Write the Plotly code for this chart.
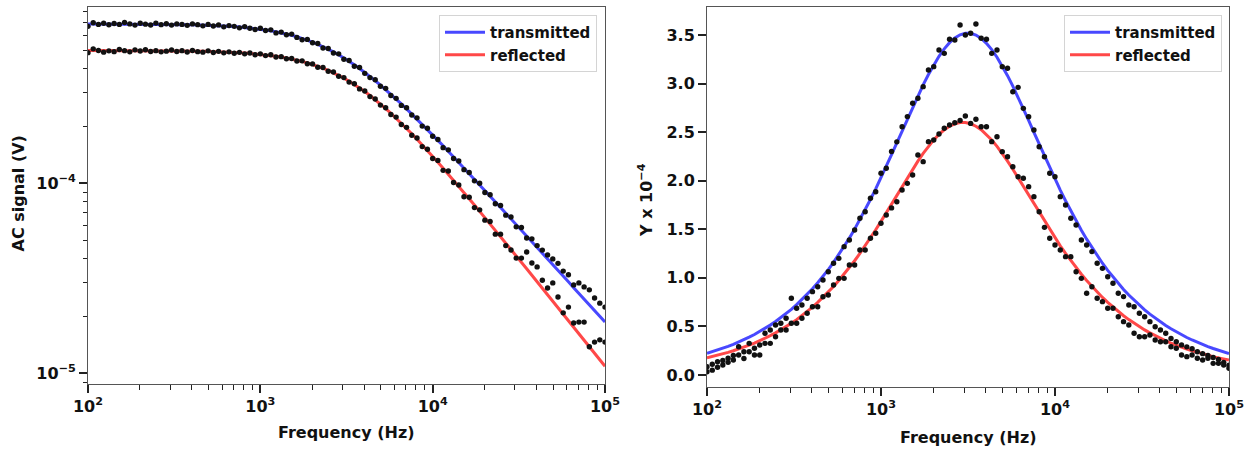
import numpy as np
import plotly.graph_objects as go

# Frequency sweep: 100 log-spaced points from 100 Hz to 100 kHz
freq_hz = np.logspace(2, 5, 100)

# ---- Left panel: AC signal amplitude, values in units of 1e-4 V ----
ac_transmitted_fit = [
    6.895, 6.895, 6.894, 6.893, 6.892, 6.890, 6.889, 6.887, 6.886, 6.883,
    6.881, 6.878, 6.875, 6.871, 6.867, 6.862, 6.856, 6.850, 6.842, 6.834,
    6.824, 6.813, 6.800, 6.786, 6.769, 6.750, 6.729, 6.705, 6.678, 6.647,
    6.608, 6.567, 6.521, 6.470, 6.412, 6.349, 6.276, 6.196, 6.108, 6.011,
    5.905, 5.790, 5.666, 5.533, 5.391, 5.240, 5.081, 4.916, 4.744, 4.567,
    4.386, 4.202, 4.017, 3.832, 3.648, 3.465, 3.286, 3.111, 2.940, 2.775,
    2.616, 2.463, 2.316, 2.176, 2.042, 1.916, 1.795, 1.682, 1.575, 1.473,
    1.378, 1.289, 1.204, 1.126, 1.051, 0.982, 0.917, 0.856, 0.799, 0.746,
    0.696, 0.650, 0.606, 0.566, 0.528, 0.492, 0.459, 0.429, 0.400, 0.373,
    0.348, 0.324, 0.303, 0.282, 0.263, 0.246, 0.229, 0.214, 0.199, 0.186,
]
ac_transmitted_meas = [
    6.70, 7.00, 6.86, 6.95, 6.83, 6.93, 6.86, 7.02, 6.90, 6.80,
    6.95, 6.88, 6.81, 6.97, 6.84, 6.92, 6.80, 6.90, 6.86, 6.78,
    6.90, 6.84, 6.74, 6.86, 6.73, 6.82, 6.66, 6.76, 6.70, 6.58,
    6.68, 6.55, 6.45, 6.55, 6.37, 6.42, 6.19, 6.25, 6.05, 6.10,
    5.86, 5.70, 5.72, 5.49, 5.44, 5.15, 5.12, 4.85, 4.80, 4.50,
    4.43, 4.13, 4.07, 3.79, 3.60, 3.51, 3.24, 3.16, 2.90, 2.80,
    2.57, 2.50, 2.29, 2.21, 2.00, 1.95, 1.77, 1.70, 1.54, 1.50,
    1.35, 1.31, 1.18, 1.14, 1.03, 1.00, 0.895, 0.870, 0.780, 0.765,
    0.680, 0.665, 0.590, 0.585, 0.515, 0.510, 0.470, 0.445, 0.420, 0.400,
    0.379, 0.345, 0.330, 0.292, 0.299, 0.285, 0.275, 0.249, 0.234, 0.223,
]
ac_reflected_fit = [
    4.998, 4.998, 4.997, 4.996, 4.996, 4.995, 4.994, 4.994, 4.993, 4.991,
    4.990, 4.989, 4.987, 4.985, 4.983, 4.980, 4.977, 4.974, 4.970, 4.966,
    4.960, 4.955, 4.948, 4.940, 4.932, 4.922, 4.910, 4.897, 4.882, 4.865,
    4.846, 4.824, 4.799, 4.771, 4.739, 4.703, 4.662, 4.617, 4.566, 4.510,
    4.448, 4.379, 4.303, 4.220, 4.130, 4.033, 3.929, 3.818, 3.700, 3.577,
    3.448, 3.315, 3.178, 3.039, 2.897, 2.756, 2.614, 2.474, 2.337, 2.202,
    2.071, 1.944, 1.822, 1.705, 1.594, 1.487, 1.386, 1.291, 1.201, 1.117,
    1.038, 0.963, 0.894, 0.829, 0.769, 0.712, 0.660, 0.611, 0.566, 0.523,
    0.484, 0.448, 0.415, 0.383, 0.355, 0.328, 0.303, 0.280, 0.259, 0.240,
    0.222, 0.205, 0.189, 0.175, 0.162, 0.150, 0.138, 0.128, 0.118, 0.109,
]
ac_reflected_meas = [
    4.87, 5.10, 5.00, 4.90, 4.98, 4.93, 5.06, 4.99, 4.92, 5.04,
    4.97, 5.05, 4.94, 4.99, 4.92, 4.96, 5.03, 4.94, 4.99, 4.91,
    5.00, 4.93, 4.90, 4.98, 4.88, 4.95, 4.86, 4.92, 4.84, 4.89,
    4.80, 4.85, 4.75, 4.80, 4.70, 4.75, 4.62, 4.64, 4.52, 4.54,
    4.40, 4.41, 4.26, 4.25, 4.08, 4.07, 3.89, 3.85, 3.66, 3.60,
    3.41, 3.34, 3.14, 3.06, 2.86, 2.78, 2.58, 2.50, 2.30, 2.23,
    2.04, 1.97, 1.79, 1.73, 1.56, 1.51, 1.35, 1.32, 1.17, 1.16,
    1.01, 0.98, 0.85, 0.845, 0.745, 0.725, 0.640, 0.630, 0.540, 0.540,
    0.470, 0.446, 0.404, 0.404, 0.435, 0.381, 0.363, 0.309, 0.281, 0.299,
    0.252, 0.208, 0.223, 0.184, 0.186, 0.186, 0.138, 0.146, 0.150, 0.146,
]
AC_UNIT = 1e-4

# ---- Right panel: Y in units of 1e-4 ----
y_transmitted_fit = [
    0.2233, 0.2394, 0.2566, 0.2751, 0.2949, 0.3161, 0.3389, 0.3633, 0.3894, 0.4173,
    0.4472, 0.4793, 0.5136, 0.5502, 0.5894, 0.6314, 0.6761, 0.7241, 0.7752, 0.8296,
    0.8878, 0.9496, 1.0153, 1.0851, 1.1594, 1.2381, 1.3213, 1.4092, 1.5014, 1.5985,
    1.7002, 1.8064, 1.9166, 2.0303, 2.1478, 2.2677, 2.3897, 2.5123, 2.6347, 2.7556,
    2.8735, 2.9868, 3.0934, 3.1922, 3.2805, 3.3575, 3.4208, 3.4697, 3.5023, 3.5183,
    3.5173, 3.4993, 3.4646, 3.4142, 3.3492, 3.2707, 3.1809, 3.0812, 2.9737, 2.8599,
    2.7417, 2.6204, 2.4979, 2.3752, 2.2535, 2.1338, 2.0168, 1.9033, 1.7936, 1.6881,
    1.5870, 1.4904, 1.3984, 1.3113, 1.2287, 1.1505, 1.0768, 1.0073, 0.9421, 0.8806,
    0.8230, 0.7689, 0.7182, 0.6708, 0.6263, 0.5847, 0.5458, 0.5094, 0.4754, 0.4436,
    0.4139, 0.3862, 0.3603, 0.3361, 0.3136, 0.2925, 0.2729, 0.2545, 0.2374, 0.2214,
]
y_transmitted_meas = [
    0.085, 0.11, 0.137, 0.15, 0.172, 0.20, 0.291, 0.24, 0.326, 0.275,
    0.309, 0.429, 0.463, 0.515, 0.532, 0.584, 0.79, 0.687, 0.72, 0.79,
    0.858, 0.909, 0.978, 1.063, 1.15, 1.201, 1.321, 1.39, 1.493, 1.613,
    1.681, 1.819, 1.887, 2.076, 2.128, 2.30, 2.40, 2.556, 2.66, 2.797,
    2.848, 2.968, 3.14, 3.174, 3.346, 3.311, 3.456, 3.449, 3.603, 3.50,
    3.518, 3.613, 3.466, 3.456, 3.311, 3.346, 3.174, 3.157, 2.916, 2.961,
    2.745, 2.659, 2.522, 2.35, 2.247, 2.076, 2.041, 1.836, 1.75, 1.613,
    1.544, 1.39, 1.338, 1.27, 1.15, 1.098, 1.012, 0.944, 0.841, 0.807,
    0.72, 0.703, 0.635, 0.60, 0.549, 0.497, 0.463, 0.429, 0.377, 0.343,
    0.31, 0.29, 0.27, 0.24, 0.22, 0.20, 0.18, 0.16, 0.13, 0.10,
]
y_reflected_fit = [
    0.1761, 0.1888, 0.2024, 0.2170, 0.2326, 0.2493, 0.2672, 0.2864, 0.3070, 0.3290,
    0.3525, 0.3777, 0.4047, 0.4336, 0.4644, 0.4974, 0.5327, 0.5702, 0.6103, 0.6531,
    0.6987, 0.7471, 0.7985, 0.8532, 0.9110, 0.9723, 1.0369, 1.1050, 1.1764, 1.2514,
    1.3296, 1.4108, 1.4948, 1.5813, 1.6699, 1.7597, 1.8503, 1.9407, 2.0301, 2.1174,
    2.2013, 2.2805, 2.3536, 2.4195, 2.4769, 2.5243, 2.5608, 2.5858, 2.5984, 2.5984,
    2.5858, 2.5608, 2.5243, 2.4769, 2.4195, 2.3536, 2.2805, 2.2013, 2.1174, 2.0301,
    1.9407, 1.8503, 1.7597, 1.6699, 1.5813, 1.4948, 1.4108, 1.3296, 1.2514, 1.1764,
    1.1050, 1.0369, 0.9723, 0.9110, 0.8532, 0.7985, 0.7471, 0.6987, 0.6531, 0.6103,
    0.5702, 0.5327, 0.4974, 0.4644, 0.4336, 0.4047, 0.3777, 0.3525, 0.3290, 0.3070,
    0.2864, 0.2672, 0.2493, 0.2326, 0.2170, 0.2024, 0.1888, 0.1761, 0.1642, 0.1532,
]
y_reflected_meas = [
    0.034, 0.05, 0.08, 0.103, 0.13, 0.154, 0.206, 0.17, 0.24, 0.206,
    0.206, 0.326, 0.326, 0.394, 0.463, 0.463, 0.532, 0.532, 0.584, 0.635,
    0.703, 0.703, 0.806, 0.824, 0.927, 0.995, 0.995, 1.132, 1.132, 1.287,
    1.287, 1.407, 1.459, 1.562, 1.647, 1.72, 1.784, 1.904, 1.973, 2.059,
    2.265, 2.196, 2.402, 2.419, 2.481, 2.54, 2.574, 2.597, 2.62, 2.666,
    2.59, 2.632, 2.556, 2.556, 2.402, 2.453, 2.299, 2.247, 2.144, 2.041,
    2.025, 1.939, 1.836, 1.68, 1.52, 1.407, 1.338, 1.287, 1.218, 1.218,
    1.063, 0.995, 0.841, 0.909, 0.79, 0.755, 0.687, 0.687, 0.60, 0.549,
    0.515, 0.429, 0.394, 0.394, 0.412, 0.36, 0.343, 0.343, 0.291, 0.275,
    0.206, 0.189, 0.206, 0.172, 0.154, 0.172, 0.12, 0.12, 0.103, 0.069,
]

# Tick definitions
x_major = [1e2, 1e3, 1e4, 1e5]
x_major_text = ["10<sup>2</sup>", "10<sup>3</sup>", "10<sup>4</sup>", "10<sup>5</sup>"]
x_minor = [m * d for d in (1e2, 1e3, 1e4) for m in range(2, 10)]
ac_major = [1e-5, 1e-4]
ac_major_text = ["10<sup>\u22125</sup>", "10<sup>\u22124</sup>"]
ac_minor = [9e-6] + [m * 1e-5 for m in range(2, 10)] + [m * 1e-4 for m in range(2, 9)]

BLUE = "rgba(20,20,255,0.78)"
RED = "rgba(255,20,20,0.78)"
FONT = "DejaVu Sans"
W, H = 1254, 449
LINE_W = 3.0
DOT_SIZE = 5.4

fig = go.Figure()

# Left panel
fig.add_trace(go.Scatter(x=freq_hz, y=np.array(ac_transmitted_fit) * AC_UNIT, mode="lines",
                         line=dict(color=BLUE, width=LINE_W), name="transmitted",
                         xaxis="x", yaxis="y", legend="legend"))
fig.add_trace(go.Scatter(x=freq_hz, y=np.array(ac_reflected_fit) * AC_UNIT, mode="lines",
                         line=dict(color=RED, width=LINE_W), name="reflected",
                         xaxis="x", yaxis="y", legend="legend"))
for vals in (ac_transmitted_meas, ac_reflected_meas):
    fig.add_trace(go.Scatter(x=freq_hz, y=np.array(vals) * AC_UNIT, mode="markers",
                             marker=dict(color="#111111", size=DOT_SIZE), showlegend=False,
                             xaxis="x", yaxis="y"))

# Right panel
fig.add_trace(go.Scatter(x=freq_hz, y=y_transmitted_fit, mode="lines",
                         line=dict(color=BLUE, width=LINE_W), name="transmitted",
                         xaxis="x2", yaxis="y2", legend="legend2"))
fig.add_trace(go.Scatter(x=freq_hz, y=y_reflected_fit, mode="lines",
                         line=dict(color=RED, width=LINE_W), name="reflected",
                         xaxis="x2", yaxis="y2", legend="legend2"))
for vals in (y_transmitted_meas, y_reflected_meas):
    fig.add_trace(go.Scatter(x=freq_hz, y=vals, mode="markers",
                             marker=dict(color="#111111", size=DOT_SIZE), showlegend=False,
                             xaxis="x2", yaxis="y2"))

tickfont = dict(family=FONT, size=16, color="#111111", weight="bold")
frame = dict(showline=True, mirror=True, linecolor="#555555", linewidth=1,
             showgrid=False, zeroline=False, ticks="outside", ticklen=8,
             tickwidth=1.6, tickcolor="#222222", tickfont=tickfont, automargin=False)
minor_style = dict(ticks="outside", ticklen=4.5, tickwidth=1.2, tickcolor="#222222")

def px_x(a, b):
    return [a / W, b / W]

def px_y(top, bottom):
    return [(H - bottom) / H, (H - top) / H]

legend_style = dict(xanchor="right", y=1 - 15 / H, yanchor="top", itemwidth=40,
                    bgcolor="white", bordercolor="#d4d4d4", borderwidth=1,
                    font=dict(family=FONT, size=15, color="#111111", weight="bold"))

fig.update_layout(
    width=W, height=H,
    margin=dict(l=0, r=0, t=0, b=0, autoexpand=False),
    paper_bgcolor="white", plot_bgcolor="white",
    font=dict(family=FONT, color="#111111"),
    xaxis=dict(type="log", range=[2, 5], domain=px_x(88, 605), anchor="y",
               tickmode="array", tickvals=x_major, ticktext=x_major_text,
               minor=dict(tickmode="array", tickvals=x_minor, **minor_style), **frame),
    yaxis=dict(type="log", range=[-5.0563, -3.0721], domain=px_y(7, 384), anchor="x",
               tickmode="array", tickvals=ac_major, ticktext=ac_major_text,
               minor=dict(tickmode="array", tickvals=ac_minor, **minor_style), **frame),
    xaxis2=dict(type="log", range=[2, 5], domain=px_x(707, 1229), anchor="y2",
                tickmode="array", tickvals=x_major, ticktext=x_major_text,
                minor=dict(tickmode="array", tickvals=x_minor, **minor_style), **frame),
    yaxis2=dict(range=[-0.1235, 3.788], domain=px_y(7, 387), anchor="x2",
                tickmode="linear", tick0=0, dtick=0.5, tickformat=".1f", **frame),
    legend=dict(x=597 / W, **legend_style),
    legend2=dict(x=1222 / W, **legend_style),
)

title_font = dict(family=FONT, size=16, color="#111111", weight="bold")
fig.add_annotation(text="Frequency (Hz)", x=346.5 / W, y=(H - 432) / H, xref="paper", yref="paper",
                   showarrow=False, xanchor="center", yanchor="middle", font=title_font)
fig.add_annotation(text="Frequency (Hz)", x=968 / W, y=(H - 437) / H, xref="paper", yref="paper",
                   showarrow=False, xanchor="center", yanchor="middle", font=title_font)
fig.add_annotation(text="AC signal (V)", x=17.5 / W, y=(H - 194) / H, xref="paper", yref="paper",
                   showarrow=False, textangle=-90, xanchor="center", yanchor="middle", font=title_font)
fig.add_annotation(text="Y x 10<sup>\u22124</sup>", x=645 / W, y=(H - 200) / H, xref="paper", yref="paper",
                   showarrow=False, textangle=-90, xanchor="center", yanchor="middle", font=title_font)

fig.write_html("out.html")
